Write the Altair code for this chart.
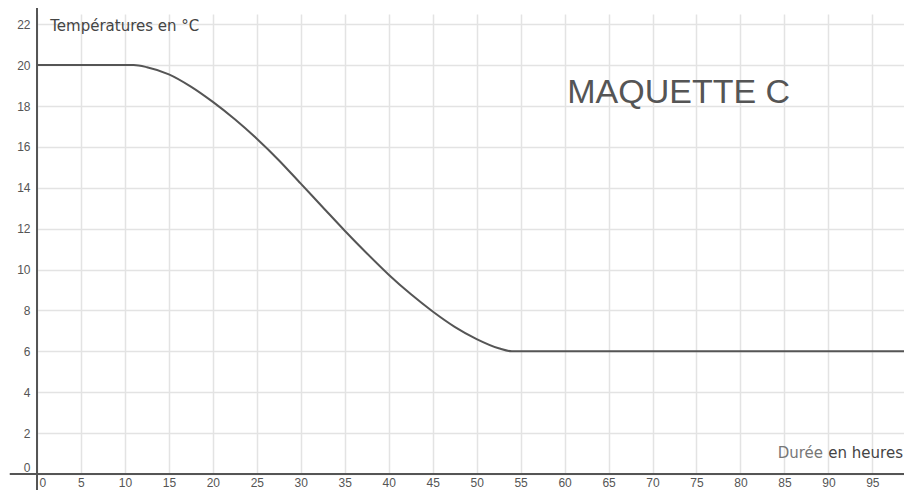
import altair as alt
import pandas as pd

# Curve
hours = [0, 5, 10, 11, 12.5, 15, 17.5, 20, 22.5, 25, 27.5, 30, 32.5, 35, 37.5,
         40, 42.5, 45, 47.5, 50, 52.5, 54, 60, 70, 80, 90, 98.6]
temps = [20, 20, 20, 20, 19.9, 19.55, 18.95, 18.2, 17.35, 16.4, 15.35, 14.2,
         13.05, 11.9, 10.8, 9.75, 8.8, 7.95, 7.2, 6.6, 6.15, 6.0, 6, 6, 6, 6, 6]

x_ticks = list(range(0, 100, 5))
y_ticks = list(range(0, 23, 2))
x_domain = [0, 98.6]
y_domain = [0, 22.5]

title_text = "Températures en °C"
xlabel_dark = "en heures"
xlabel_light = "Durée"
stamp = "MAQUETTE C"

df = pd.DataFrame({"h": hours, "t": temps})

xs = alt.Scale(domain=x_domain, nice=False, zero=False)
ys = alt.Scale(domain=y_domain, nice=False, zero=False)

x_axis = alt.Axis(values=x_ticks, grid=True, gridColor="#e3e3e3", gridWidth=1.5,
                  domain=False, ticks=False, labelFontSize=12, labelColor="#555",
                  labelFont="Liberation Sans", labelPadding=3, title=None,
                  labelFlush=False,
                  labelAlign={"condition": {"test": "datum.value == 0", "value": "left"},
                              "value": "center"},
                  labelOffset={"condition": {"test": "datum.value == 0", "value": 2},
                               "value": 0})
y_axis = alt.Axis(values=y_ticks, grid=True, gridColor="#e3e3e3", gridWidth=1.5,
                  domain=False, ticks=False, labelFontSize=12, labelColor="#555",
                  labelFont="Liberation Sans", labelPadding=7, title=None,
                  labelBaseline={"condition": {"test": "datum.value == 0", "value": "bottom"},
                                 "value": "middle"})

base = alt.Chart(df)

curve = base.mark_line(color="#555", strokeWidth=2, interpolate="monotone").encode(
    x=alt.X("h:Q", scale=xs, axis=x_axis),
    y=alt.Y("t:Q", scale=ys, axis=y_axis),
)

ax_df = pd.DataFrame({"x1": [-3.1, 0], "x2": [98.6, 0], "y1": [0, -0.8], "y2": [0, 23.0]})
axes_lines = alt.Chart(ax_df).mark_rule(color="#555", strokeWidth=2).encode(
    x=alt.X("x1:Q", scale=xs), x2="x2:Q",
    y=alt.Y("y1:Q", scale=ys), y2="y2:Q",
)

arrow = alt.Chart(pd.DataFrame({"x": [0], "y": [23.0]})).mark_point(
    shape="M-1,0.8L0,0L1,0.8", filled=False, color="#555", strokeWidth=1.5, size=40
).encode(x=alt.X("x:Q", scale=xs), y=alt.Y("y:Q", scale=ys))

title_mark = alt.Chart(pd.DataFrame({"x": [1.5], "y": [21.9], "label": [title_text]})).mark_text(
    align="left", baseline="middle", font="DejaVu Sans", fontSize=15, color="#444"
).encode(x=alt.X("x:Q", scale=xs), y=alt.Y("y:Q", scale=ys), text="label:N")

stamp_mark = alt.Chart(pd.DataFrame({"x": [60.3], "y": [18.65], "label": [stamp]})).mark_text(
    align="left", baseline="middle", font="Liberation Sans", fontSize=34, color="#555"
).encode(x=alt.X("x:Q", scale=xs), y=alt.Y("y:Q", scale=ys), text="label:N")

xl_dark = alt.Chart(pd.DataFrame({"x": [98.6], "y": [1.05], "label": [xlabel_dark]})).mark_text(
    align="right", baseline="middle", font="DejaVu Sans", fontSize=15, color="#444", dx=-1
).encode(x=alt.X("x:Q", scale=xs), y=alt.Y("y:Q", scale=ys), text="label:N")

xl_light = alt.Chart(pd.DataFrame({"x": [98.6], "y": [1.05], "label": [xlabel_light]})).mark_text(
    align="right", baseline="middle", font="DejaVu Sans", fontSize=15, color="#777", dx=-81
).encode(x=alt.X("x:Q", scale=xs), y=alt.Y("y:Q", scale=ys), text="label:N")

chart = alt.layer(curve, axes_lines, arrow, title_mark, stamp_mark, xl_dark, xl_light).properties(
    width=867, height=460,
    autosize=alt.AutoSizeParams(type="none"),
    padding={"left": 29, "top": 6, "right": 0, "bottom": 16},
    background="white",
).configure_view(stroke=None)

chart.save("out.html", embed_options={"renderer": "svg", "actions": False})
